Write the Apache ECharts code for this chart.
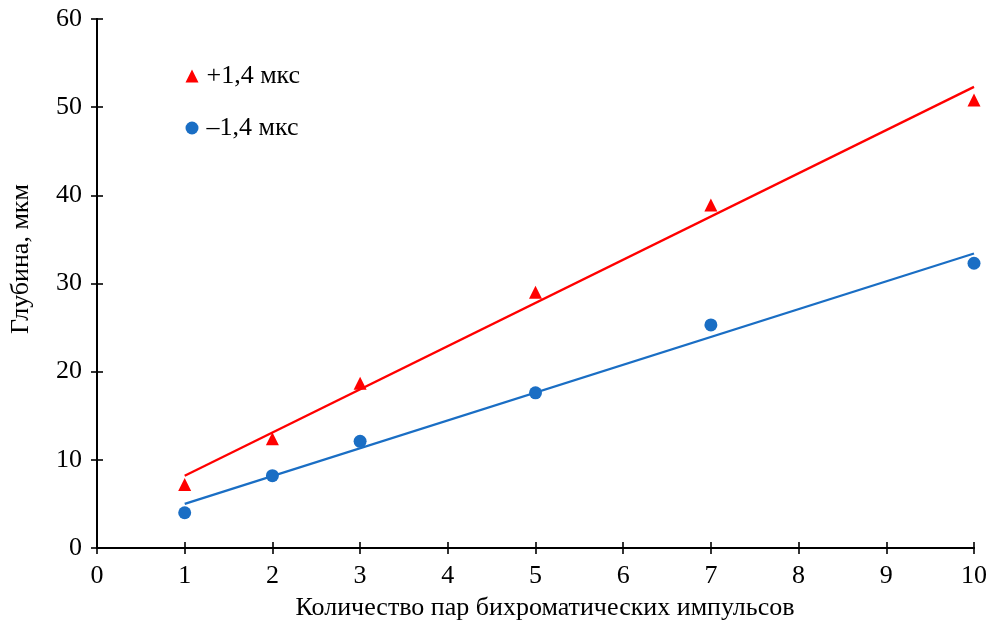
<!DOCTYPE html>
<html>
<head>
<meta charset="utf-8">
<script src="https://cdn.jsdelivr.net/npm/echarts@6/dist/echarts.min.js"></script>
<style>html,body{margin:0;padding:0;background:#fff}#c{width:991px;height:626px}</style>
</head>
<body>
<div id="c"></div>
<script>
var xValues = [1, 2, 3, 5, 7, 10];
var plusValues = [7.2, 12.4, 18.7, 29.0, 38.9, 50.8];
var minusValues = [4.0, 8.2, 12.1, 17.6, 25.3, 32.3];
var plusFitX = [1, 10];
var plusFitY = [8.2, 52.3];
var minusFitX = [1, 10];
var minusFitY = [5.0, 33.4];
var seriesNames = ['+1,4 мкс', '\u20131,4 мкс'];
var xTitle = 'Количество пар бихроматических импульсов';
var yTitle = 'Глубина, мкм';

function pairs(xs, ys) { return xs.map(function (x, i) { return [x, ys[i]]; }); }

var FONT = '"Liberation Serif", "DejaVu Serif", serif';
var RED = '#ff0000';
var BLUE = '#1a6ec4';

var axisLineStyle = { show: true, lineStyle: { color: '#000', width: 2 } };
var tickStyle = { color: '#000', width: 1.6 };

var chart = echarts.init(document.getElementById('c'));
chart.setOption({
  animation: false,
  backgroundColor: '#fff',
  grid: { left: 97, right: 17, top: 19, bottom: 78, containLabel: false },
  legend: {
    orient: 'vertical', left: 180.5, top: 58, itemGap: 26,
    itemWidth: 13, itemHeight: 13,
    data: seriesNames,
    textStyle: { fontFamily: FONT, fontSize: 26, color: '#000', padding: [0, 0, 0, 3] }
  },
  xAxis: [{
    type: 'value', min: 0, max: 10, interval: 1, position: 'bottom',
    axisLine: axisLineStyle,
    axisTick: { show: true, inside: false, length: 6, lineStyle: tickStyle },
    axisLabel: { margin: 15, fontFamily: FONT, fontSize: 26, color: '#000' },
    splitLine: { show: false }
  }, {
    type: 'value', min: 0, max: 10, interval: 1, position: 'bottom', offset: 0,
    axisLine: axisLineStyle,
    axisTick: { show: true, inside: true, length: 6, lineStyle: tickStyle },
    axisLabel: { show: false },
    splitLine: { show: false }
  }],
  yAxis: [{
    type: 'value', min: 0, max: 60, interval: 10, position: 'left',
    axisLine: axisLineStyle,
    axisTick: { show: true, inside: false, length: 6, lineStyle: tickStyle },
    axisLabel: { margin: 15, fontFamily: FONT, fontSize: 26, color: '#000' },
    splitLine: { show: false }
  }, {
    type: 'value', min: 0, max: 60, interval: 10, position: 'left', offset: 0,
    axisLine: axisLineStyle,
    axisTick: { show: true, inside: true, length: 6, lineStyle: tickStyle },
    axisLabel: { show: false },
    splitLine: { show: false }
  }],
  graphic: [
    { type: 'text', x: 545, y: 608, style: { text: xTitle, fontFamily: FONT, fontSize: 26, fill: '#000', align: 'center', verticalAlign: 'middle' } },
    { type: 'text', x: 21, y: 259, rotation: Math.PI / 2, style: { text: yTitle, fontFamily: FONT, fontSize: 26, fill: '#000', align: 'center', verticalAlign: 'middle' } }
  ],
  series: [
    { name: 'fitPlus', type: 'line', data: pairs(plusFitX, plusFitY), showSymbol: false, silent: true,
      lineStyle: { color: RED, width: 2.3 }, itemStyle: { color: RED }, z: 2 },
    { name: 'fitMinus', type: 'line', data: pairs(minusFitX, minusFitY), showSymbol: false, silent: true,
      lineStyle: { color: BLUE, width: 2.3 }, itemStyle: { color: BLUE }, z: 2 },
    { name: seriesNames[0], type: 'scatter', data: pairs(xValues, plusValues), symbol: 'triangle', symbolSize: 13,
      itemStyle: { color: RED, opacity: 1 }, z: 3 },
    { name: seriesNames[1], type: 'scatter', data: pairs(xValues, minusValues), symbol: 'circle', symbolSize: 13,
      itemStyle: { color: BLUE, opacity: 1 }, z: 3 }
  ]
});
</script>
</body>
</html>
